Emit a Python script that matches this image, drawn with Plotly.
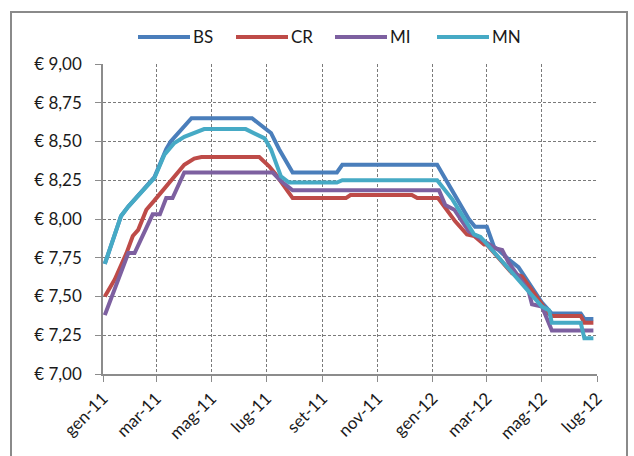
import plotly.graph_objects as go

# Weekly fuel price series (EUR), breakpoints per province
bs_dates = ["2011-01-03", "2011-01-21", "2011-01-29", "2011-02-27", "2011-03-12", "2011-03-17",
            "2011-04-09", "2011-06-15", "2011-06-26", "2011-07-06", "2011-07-15", "2011-07-30",
            "2011-09-17", "2011-09-23", "2012-01-06", "2012-01-19", "2012-02-10", "2012-02-17",
            "2012-03-01", "2012-03-09", "2012-03-14", "2012-03-25", "2012-04-05", "2012-05-01",
            "2012-05-12", "2012-06-13", "2012-06-17", "2012-06-27"]
bs_values = [7.71, 8.02, 8.08, 8.27, 8.45, 8.50,
             8.65, 8.65, 8.60, 8.555, 8.45, 8.30,
             8.30, 8.35, 8.35, 8.22, 8.00, 7.95,
             7.95, 7.82, 7.80, 7.74, 7.69, 7.46,
             7.39, 7.39, 7.355, 7.355]

cr_dates = ["2011-01-03", "2011-01-14", "2011-01-27", "2011-02-03", "2011-02-09", "2011-02-18",
            "2011-02-27", "2011-03-06", "2011-03-17", "2011-04-01", "2011-04-12", "2011-04-20",
            "2011-06-23", "2011-07-04", "2011-07-11", "2011-07-30", "2011-09-27", "2011-10-02",
            "2011-12-09", "2011-12-15", "2012-01-07", "2012-01-15", "2012-01-26", "2012-02-08",
            "2012-02-16", "2012-02-27", "2012-03-01", "2012-03-29", "2012-04-09", "2012-05-01",
            "2012-05-09", "2012-05-12", "2012-06-13", "2012-06-17", "2012-06-27"]
cr_values = [7.50, 7.61, 7.78, 7.89, 7.93, 8.06,
             8.12, 8.17, 8.25, 8.35, 8.39, 8.40,
             8.40, 8.34, 8.29, 8.135, 8.135, 8.155,
             8.155, 8.135, 8.135, 8.07, 7.985, 7.90,
             7.89, 7.835, 7.835, 7.65, 7.63, 7.45,
             7.385, 7.375, 7.375, 7.33, 7.33]

mi_dates = ["2011-01-03", "2011-01-29", "2011-02-05", "2011-02-25", "2011-03-05", "2011-03-12",
            "2011-03-19", "2011-04-01", "2011-07-08", "2011-07-17", "2011-07-30", "2012-01-08",
            "2012-01-15", "2012-01-25", "2012-02-10", "2012-03-11", "2012-03-18", "2012-03-25",
            "2012-04-16", "2012-04-20", "2012-05-01", "2012-05-12", "2012-06-27"]
mi_values = [7.38, 7.78, 7.78, 8.03, 8.03, 8.135,
             8.135, 8.30, 8.30, 8.245, 8.185, 8.185,
             8.09, 8.06, 7.92, 7.81, 7.80, 7.72,
             7.54, 7.45, 7.435, 7.28, 7.28]

mn_dates = ["2011-01-03", "2011-01-21", "2011-01-29", "2011-02-27", "2011-03-10", "2011-03-21",
            "2011-04-01", "2011-04-12", "2011-04-23", "2011-06-08", "2011-06-29", "2011-07-06",
            "2011-07-17", "2011-07-26", "2011-09-17", "2011-09-23", "2012-01-06", "2012-01-23",
            "2012-02-10", "2012-02-16", "2012-02-23", "2012-05-01", "2012-05-09", "2012-05-12",
            "2012-06-13", "2012-06-17", "2012-06-27"]
mn_values = [7.71, 8.02, 8.08, 8.265, 8.415, 8.49,
             8.53, 8.555, 8.58, 8.58, 8.52, 8.45,
             8.275, 8.235, 8.235, 8.25, 8.25, 8.125,
             7.95, 7.90, 7.885, 7.435, 7.41, 7.33,
             7.33, 7.23, 7.23]

series_names = ["BS", "CR", "MI", "MN"]
series_colors = ["#4A7EBB", "#BE4B48", "#7D60A0", "#46AAC5"]

x_tick_dates = ["2011-01-01", "2011-03-01", "2011-05-01", "2011-07-01", "2011-09-01",
                "2011-11-01", "2012-01-01", "2012-03-01", "2012-05-01", "2012-07-01"]
x_tick_labels = ["gen-11", "mar-11", "mag-11", "lug-11", "set-11",
                 "nov-11", "gen-12", "mar-12", "mag-12", "lug-12"]
y_tick_values = [7.00, 7.25, 7.50, 7.75, 8.00, 8.25, 8.50, 8.75, 9.00]
y_tick_labels = ["€ " + f"{v:.2f}".replace(".", ",") for v in y_tick_values]

W, H = 634, 456
L, R, T, B = 103, 37, 64, 82
PW, PH = W - L - R, H - T - B


def px_x(px):
    return (px - L) / PW


def px_y(py):
    return (H - B - py) / PH


fig = go.Figure()
all_data = [(bs_dates, bs_values), (cr_dates, cr_values), (mi_dates, mi_values), (mn_dates, mn_values)]
for name, color, (d, v) in zip(series_names, series_colors, all_data):
    fig.add_trace(go.Scatter(x=d, y=v, mode="lines", name=name,
                             line=dict(color=color, width=4), showlegend=False))

font_family = "Lato, 'Open Sans', sans-serif"
text_color = "#1A1A1A"
grid_color = "#7A7A7A"
axis_color = "#8C8C8C"

shapes = []
annotations = []
# legend drawn as short line swatches with labels
legend_x = [138, 236, 335, 437]
legend_y = 37
for name, color, x0 in zip(series_names, series_colors, legend_x):
    shapes.append(dict(type="line", xref="paper", yref="paper",
                       x0=px_x(x0), x1=px_x(x0 + 52), y0=px_y(legend_y), y1=px_y(legend_y),
                       line=dict(color=color, width=4)))
    annotations.append(dict(xref="paper", yref="paper", x=px_x(x0 + 53), y=px_y(legend_y),
                            text=name, showarrow=False, xanchor="left", yanchor="middle",
                            font=dict(family=font_family, size=17, color=text_color)))

# chart frame
shapes.append(dict(type="rect", xref="paper", yref="paper",
                   x0=px_x(11), x1=px_x(627), y0=px_y(470), y1=px_y(12),
                   line=dict(color="#8A8A8A", width=2), fillcolor="rgba(0,0,0,0)", layer="below"))

fig.update_layout(
    width=W, height=H,
    margin=dict(l=L, r=R, t=T, b=B),
    paper_bgcolor="white", plot_bgcolor="white",
    shapes=shapes, annotations=annotations,
    xaxis=dict(type="date", range=["2011-01-01", "2012-07-01"],
               tickvals=x_tick_dates, ticktext=x_tick_labels, tickangle=-45,
               showgrid=True, gridcolor=grid_color, griddash="3px,2px", gridwidth=1,
               showline=True, linecolor=axis_color, linewidth=1.5,
               ticks="outside", ticklen=6, tickcolor=axis_color,
               tickfont=dict(family=font_family, size=17, color=text_color),
               zeroline=False),
    yaxis=dict(range=[7.0, 9.0], tickvals=y_tick_values, ticktext=y_tick_labels,
               showgrid=True, gridcolor=grid_color, griddash="3px,2px", gridwidth=1,
               showline=True, linecolor=axis_color, linewidth=1.5,
               ticks="outside", ticklen=6, tickcolor=axis_color, ticklabelstandoff=10,
               tickfont=dict(family=font_family, size=17, color=text_color),
               zeroline=False),
)

fig.write_html("out.html")
